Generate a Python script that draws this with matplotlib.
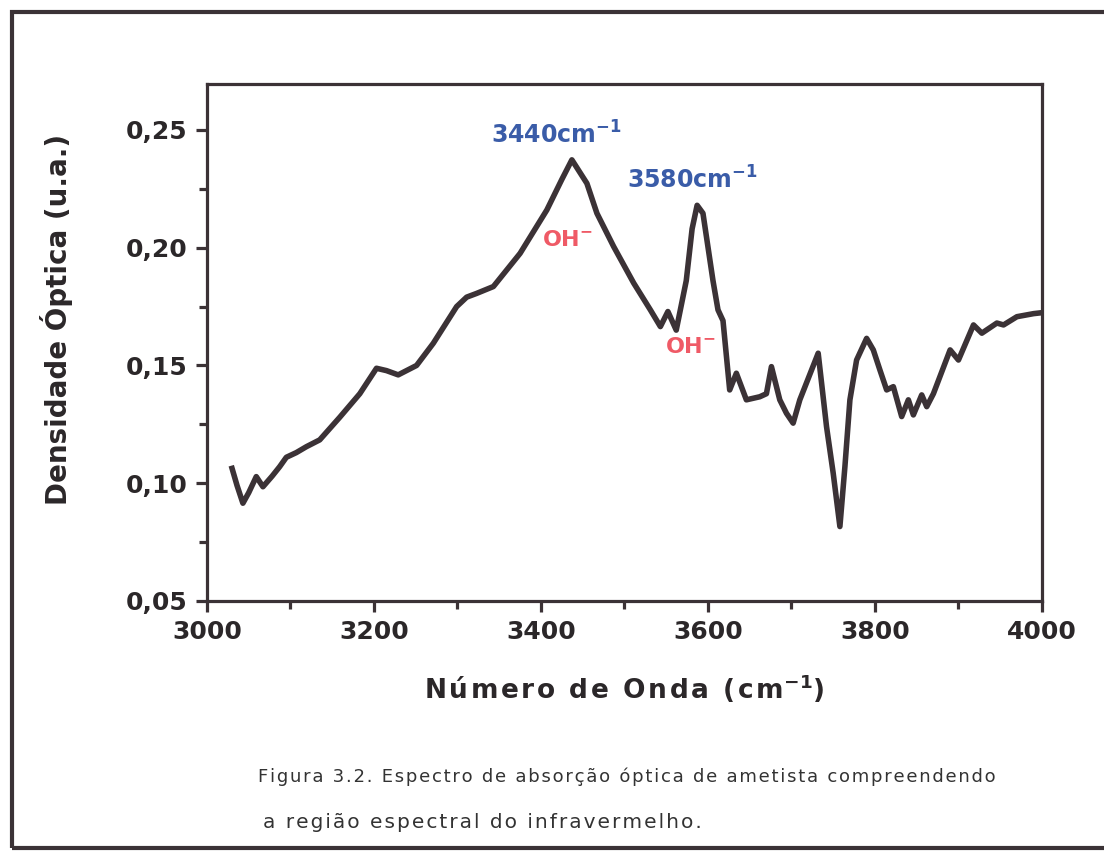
import matplotlib.pyplot as plt
from matplotlib.patches import Rectangle
from matplotlib.ticker import MultipleLocator, FuncFormatter

# espectro (numero de onda, densidade optica)
wavenumber = [3030, 3036, 3043, 3050, 3059, 3067, 3078, 3087, 3095, 3107, 3119, 3135,
              3159, 3183, 3203, 3215, 3229, 3251, 3271, 3299, 3311, 3323, 3343, 3375,
              3407, 3425, 3437, 3455, 3467, 3487, 3511, 3531, 3543, 3552, 3562, 3574,
              3581, 3587, 3594, 3606, 3612, 3618, 3626, 3634, 3646, 3662, 3670, 3676,
              3686, 3694, 3702, 3710, 3732, 3742, 3750, 3758, 3764, 3770, 3778, 3790,
              3798, 3806, 3814, 3822, 3832, 3840, 3846, 3856, 3862, 3870, 3890, 3900,
              3918, 3928, 3946, 3954, 3970, 3990, 4000]
density = [0.1063, 0.0990, 0.0915, 0.0960, 0.1028, 0.0985, 0.1030, 0.1070, 0.1110, 0.1130,
           0.1155, 0.1184, 0.1280, 0.1380, 0.1488, 0.1478, 0.1460, 0.1500, 0.1594, 0.1750,
           0.1790, 0.1806, 0.1835, 0.1976, 0.2160, 0.2290, 0.2373, 0.2273, 0.2146, 0.2005,
           0.1850, 0.1736, 0.1665, 0.1729, 0.1650, 0.1860, 0.2080, 0.2180, 0.2146, 0.1860,
           0.1736, 0.1690, 0.1396, 0.1467, 0.1354, 0.1367, 0.1380, 0.1495, 0.1354, 0.1297,
           0.1255, 0.1354, 0.1552, 0.1240, 0.1042, 0.0816, 0.1070, 0.1354, 0.1523, 0.1615,
           0.1566, 0.1480, 0.1396, 0.1410, 0.1283, 0.1354, 0.1290, 0.1375, 0.1325, 0.1380,
           0.1566, 0.1523, 0.1672, 0.1637, 0.1680, 0.1672, 0.1707, 0.1720, 0.1724]

peak_labels = ["3440cm$^{\\mathbf{-1}}$", "3580cm$^{\\mathbf{-1}}$"]
peak_pos = [(3419, 0.2479), (3581, 0.2288)]
oh_pos = [(3432, 0.2033), (3579, 0.1579)]

caption = ["Figura 3.2. Espectro de absorção óptica de ametista compreendendo",
           "a região espectral do infravermelho."]

line_color = "#3b3236"
text_color = "#2b2729"
HS = "\u200a"

fig = plt.figure(figsize=(11.04, 8.51), dpi=100)
ax = fig.add_axes([0.1875, 0.2938, 0.7563, 0.6075])

ax.plot(wavenumber, density, color=line_color, lw=4, solid_joinstyle="round")

ax.set_xlim(3000, 4000)
ax.set_ylim(0.05, 0.2695)
ax.xaxis.set_major_locator(MultipleLocator(200))
ax.xaxis.set_minor_locator(MultipleLocator(100))
ax.yaxis.set_major_locator(MultipleLocator(0.05))
ax.yaxis.set_minor_locator(MultipleLocator(0.025))
ax.yaxis.set_major_formatter(FuncFormatter(lambda v, p: f"{v:.2f}".replace(".", ",")))

for s in ax.spines.values():
    s.set_linewidth(2.3)
    s.set_color(line_color)
ax.tick_params(which="both", direction="out", width=2.3, color=line_color,
               top=False, right=False)
ax.tick_params(which="major", length=8, pad=6)
ax.tick_params(which="minor", length=6)
for lab in ax.get_xticklabels() + ax.get_yticklabels():
    lab.set_fontfamily("DejaVu Sans")
    lab.set_fontweight("bold")
    lab.set_fontsize(18)
    lab.set_color(text_color)

ax.set_ylabel("Densidade Óptica (u.a.)", fontfamily="DejaVu Sans", fontweight="bold",
              fontsize=20, color=text_color)
ax.yaxis.set_label_coords(-0.16, 0.545)
ax.set_xlabel(HS.join("Número de Onda (cm") + "$^{\\mathbf{-1}}$)", fontfamily="DejaVu Sans",
              fontweight="bold", fontsize=19, color=text_color, labelpad=20)

for txt, (x, y) in zip(peak_labels, peak_pos):
    ax.text(x, y, txt, color="#3a5ca8", fontsize=17, fontweight="bold",
            fontfamily="DejaVu Sans", ha="center", va="center")
for x, y in oh_pos:
    ax.text(x, y, "OH$^{\\mathbf{-}}$", color="#ef5a66", fontsize=16, fontweight="bold",
            fontfamily="DejaVu Sans", ha="center", va="center")

# moldura externa
fig.patches.append(Rectangle((0.011, 0.004), 0.99, 0.982, transform=fig.transFigure,
                             fill=False, lw=3, edgecolor=line_color))

# legenda da figura
fig.text(0.234, 1 - 777 / 851, HS.join(caption[0]),
         fontsize=13, color="#333333", va="center", ha="left", fontfamily="DejaVu Sans")
fig.text(0.238, 1 - 822 / 851, HS.join(caption[1]),
         fontsize=14.5, color="#333333", va="center", ha="left", fontfamily="DejaVu Sans")

fig.savefig("out.png", dpi=100)
